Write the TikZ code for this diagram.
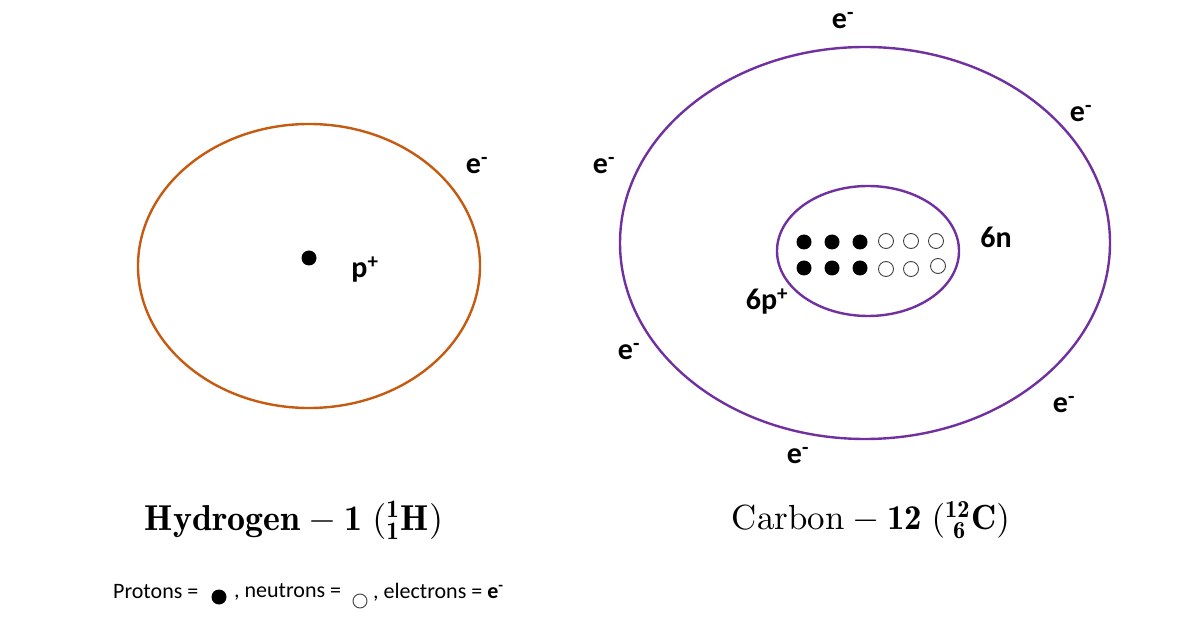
\documentclass[tikz,border=0pt]{standalone}
\usepackage{fontspec}
\usepackage{amsmath}
\newfontfamily\calibri{Carlito}
\definecolor{horange}{HTML}{C55A11}
\definecolor{cpurple}{HTML}{7030A0}
\begin{document}
\begin{tikzpicture}[x=1pt,y=-1pt,
  lbl/.style={font=\calibri\fontsize{30}{33}\selectfont\bfseries, inner sep=0pt},
  leg/.style={font=\calibri\fontsize{22}{25}\selectfont, inner sep=0pt, anchor=west},
  proton/.style={circle, fill=black, minimum size=15pt, inner sep=0pt},
  neutron/.style={circle, draw=black!75, line width=0.9pt, fill=white, minimum size=15pt, inner sep=0pt},
  captext/.style={inner sep=0pt}]
\useasboundingbox (0,0) rectangle (1200,620);
\fill[white] (0,0) rectangle (1200,620);
% Hydrogen
\draw[horange, line width=2.4pt] (309,266) ellipse [x radius=171, y radius=142];
\node[proton] (hp) at (309,258) {};
\node[lbl] (hpl) at (365,270) {p\textsuperscript{+}};
\node[lbl] (he) at (477,166) {e\textsuperscript{-}};
% Carbon
\draw[cpurple, line width=2.4pt] (865,243) ellipse [x radius=245, y radius=196];
\draw[cpurple, line width=2.4pt] (868,251) ellipse [x radius=91, y radius=65];
\foreach \x [count=\i] in {804,832,860}{
  \node[proton] (pa\i) at (\x,242) {};
  \node[proton] (pb\i) at (\x,268) {};
}
\node[neutron] (na1) at (886,241) {};
\node[neutron] (na2) at (911,241) {};
\node[neutron] (na3) at (936,241) {};
\node[neutron] (nb1) at (886,269) {};
\node[neutron] (nb2) at (911,269) {};
\node[neutron] (nb3) at (938,266) {};
\node[lbl] (n6) at (996,237) {6n};
\node[lbl] (p6) at (767,302) {6p\textsuperscript{+}};
\node[lbl] (e1) at (843,21) {e\textsuperscript{-}};
\node[lbl] (e2) at (1081,114) {e\textsuperscript{-}};
\node[lbl] (e3) at (604,166) {e\textsuperscript{-}};
\node[lbl] (e4) at (629,352) {e\textsuperscript{-}};
\node[lbl] (e5) at (1064,405) {e\textsuperscript{-}};
\node[lbl] (e6) at (798,456) {e\textsuperscript{-}};
% captions
\node[captext] (hcap) at (294,520) {\resizebox{298pt}{!}{$\mathbf{Hydrogen}-\mathbf{1}\;({}^{\mathbf{1}}_{\mathbf{1}}\mathbf{H})$}};
\node[captext] (ccap) at (871,520) {\resizebox{278pt}{!}{$\mathrm{Carbon}-\mathbf{12}\;({}^{\mathbf{12}}_{\;\mathbf{6}}\mathbf{C})$}};
% legend
\node[leg] (l1) at (113,592) {Protons =};
\node[proton, minimum size=15pt] (ld) at (219,597) {};
\node[leg] (l2) at (234,592) {, neutrons =};
\node[neutron, minimum size=14pt] (lc) at (360,601) {};
\node[leg] (l3) at (373,592) {, electrons = \textbf{e}\textsuperscript{\textbf{-}}};
\end{tikzpicture}
\end{document}
